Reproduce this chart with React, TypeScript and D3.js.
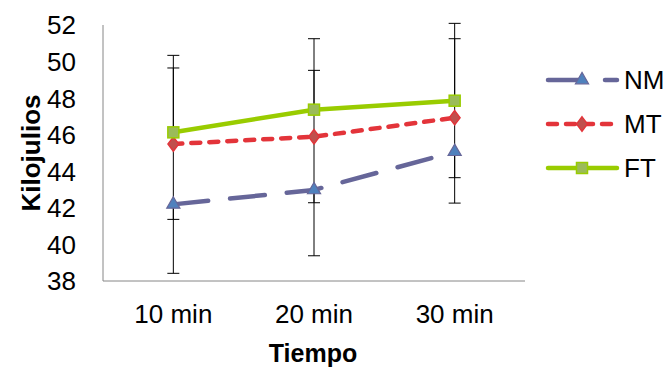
import React from 'react';
import * as d3 from 'd3';

const categories = ['10 min', '20 min', '30 min'];
const yTicks = [38, 40, 42, 44, 46, 48, 50, 52];

const nmValues = [42.19, 42.98, 45.07];
const nmErrMinus = [3.77, 3.6, 1.42];

const mtValues = [45.49, 45.89, 46.93];
const mtErrPlus = [4.16, 3.63, 4.32];
const mtErrMinus = [4.12, 3.61, 4.67];

const ftValues = [46.13, 47.37, 47.86];
const ftErrPlus = [4.21, 3.88, 4.23];

const width = 665;
const height = 369;
const left = 103;
const right = 525;
const top = 25;
const bottom = 281;
const font = 'Arial, "Liberation Sans", sans-serif';

type Series = {
  name: string;
  values: number[];
  plus: number[] | null;
  minus: number[] | null;
  color: string;
  dash: string | null;
  marker: 'triangle' | 'diamond' | 'square';
  fill: string;
};

const series: Series[] = [
  { name: 'NM', values: nmValues, plus: null, minus: nmErrMinus, color: '#666699', dash: '35 22', marker: 'triangle', fill: '#4f81bd' },
  { name: 'MT', values: mtValues, plus: mtErrPlus, minus: mtErrMinus, color: '#e3343a', dash: '9 9', marker: 'diamond', fill: '#c0504d' },
  { name: 'FT', values: ftValues, plus: ftErrPlus, minus: null, color: '#99cc00', dash: null, marker: 'square', fill: '#9bbb59' }
];

function Marker({ kind, x, y, fill, stroke }: { kind: string; x: number; y: number; fill: string; stroke: string }) {
  if (kind === 'square') {
    return <rect x={x - 5.5} y={y - 5.5} width={11} height={11} fill={fill} stroke={stroke} strokeWidth={1.5} />;
  }
  const sym = kind === 'triangle' ? d3.symbolTriangle : d3.symbolDiamond;
  const size = kind === 'triangle' ? 75 : 60;
  const path = d3.symbol().type(sym).size(size)();
  const sx = kind === 'diamond' ? 1.3 : 1;
  return (
    <path
      d={path || ''}
      transform={`translate(${x},${y}) scale(${sx},1)`}
      fill={fill}
      stroke={stroke}
      strokeWidth={1.2}
    />
  );
}

export default function App() {
  const x = d3.scaleBand().domain(categories).range([left, right]);
  const y = d3.scaleLinear().domain([38, 52]).range([bottom, top]);
  const cx = (c: string) => (x(c) || 0) + x.bandwidth() / 2;

  const line = d3
    .line<number>()
    .x((_, i) => cx(categories[i]))
    .y(d => y(d));

  const errBars: React.ReactNode[] = [];
  series.forEach(s => {
    s.values.forEach((v, i) => {
      const px = cx(categories[i]);
      if (s.plus) {
        const t = y(v + s.plus[i]);
        errBars.push(<line key={`${s.name}p${i}`} x1={px} x2={px} y1={y(v)} y2={t} stroke="#000" strokeWidth={1} />);
        errBars.push(<line key={`${s.name}pc${i}`} x1={px - 6} x2={px + 6} y1={t} y2={t} stroke="#000" strokeWidth={1} />);
      }
      if (s.minus) {
        const b = y(v - s.minus[i]);
        errBars.push(<line key={`${s.name}m${i}`} x1={px} x2={px} y1={y(v)} y2={b} stroke="#000" strokeWidth={1} />);
        errBars.push(<line key={`${s.name}mc${i}`} x1={px - 6} x2={px + 6} y1={b} y2={b} stroke="#000" strokeWidth={1} />);
      }
    });
  });

  const legendY = [80, 124, 168];

  return (
    <svg width={width} height={height} style={{ position: 'absolute', left: 0, top: 0 }} fontFamily={font}>
      <rect width={width} height={height} fill="#fff" />
      <line x1={left} x2={left} y1={top} y2={bottom} stroke="#868686" strokeWidth={1} />
      <line x1={left} x2={right} y1={bottom} y2={bottom} stroke="#868686" strokeWidth={1} />

      {yTicks.map(t => (
        <text key={t} x={76} y={y(t)} dy="0.36em" textAnchor="end" fontSize={26}>
          {t}
        </text>
      ))}
      {categories.map(c => (
        <text key={c} x={cx(c)} y={323} textAnchor="middle" fontSize={26}>
          {c}
        </text>
      ))}
      <text x={313} y={362} textAnchor="middle" fontSize={25} fontWeight="bold">
        Tiempo
      </text>
      <text transform="translate(40,153) rotate(-90)" textAnchor="middle" fontSize={26} fontWeight="bold">
        Kilojulios
      </text>

      {errBars}

      {series.map(s => (
        <path
          key={s.name}
          d={line(s.values) || ''}
          fill="none"
          stroke={s.color}
          strokeWidth={4.5}
          strokeDasharray={s.dash || undefined}
          strokeLinecap={s.dash ? 'round' : 'butt'}
        />
      ))}
      {series.map(s =>
        s.values.map((v, i) => (
          <Marker key={`${s.name}k${i}`} kind={s.marker} x={cx(categories[i])} y={y(v)} fill={s.fill} stroke={s.color} />
        ))
      )}

      {series.map((s, i) => (
        <g key={`lg${s.name}`}>
          <line
            x1={548}
            x2={617}
            y1={legendY[i]}
            y2={legendY[i]}
            stroke={s.color}
            strokeWidth={4.5}
            strokeDasharray={s.dash || undefined}
            strokeLinecap="round"
          />
          <Marker kind={s.marker} x={582} y={legendY[i]} fill={s.fill} stroke={s.color} />
          <text x={624} y={legendY[i]} dy="0.36em" fontSize={26}>
            {s.name}
          </text>
        </g>
      ))}
    </svg>
  );
}
